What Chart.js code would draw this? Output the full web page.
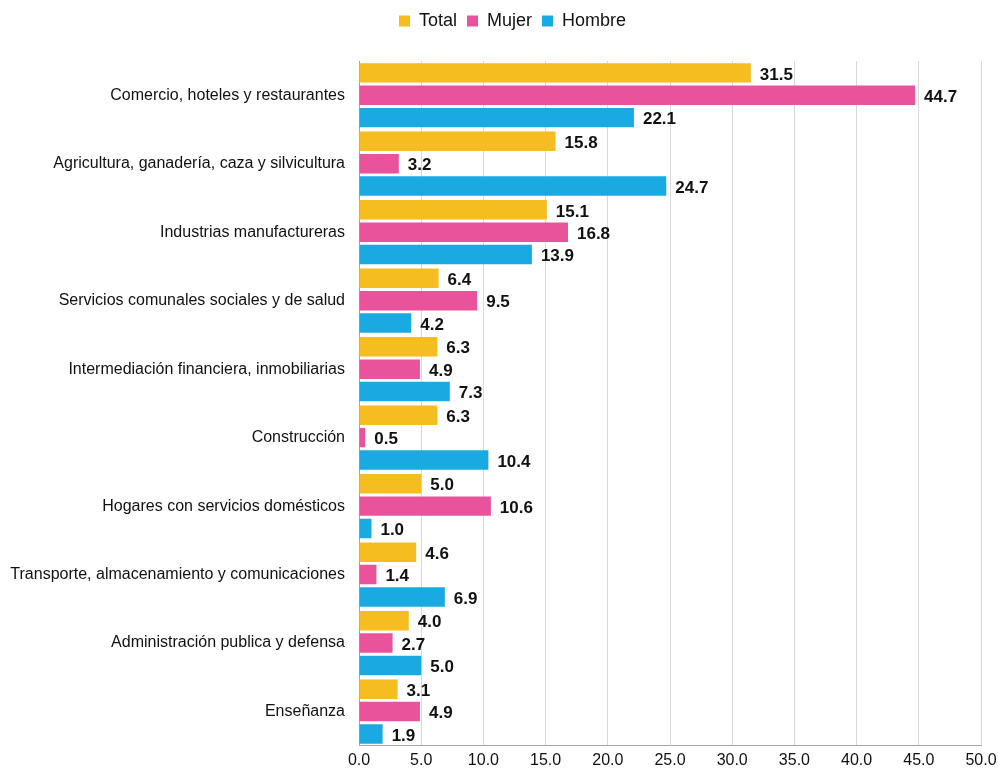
<!DOCTYPE html>
<html>
<head>
<meta charset="utf-8">
<script src="https://cdn.jsdelivr.net/npm/chart.js@4.4.1/dist/chart.umd.min.js"></script>
<style>
  html, body { margin: 0; padding: 0; background: #fff; }
  #wrap { width: 998px; height: 778px; }
</style>
</head>
<body>
<div id="wrap"><canvas id="EmpleoChart"></canvas></div>
<script>
const categories = [
  'Comercio, hoteles y restaurantes',
  'Agricultura, ganadería, caza y silvicultura',
  'Industrias manufactureras',
  'Servicios comunales sociales y de salud',
  'Intermediación financiera, inmobiliarias',
  'Construcción',
  'Hogares con servicios domésticos',
  'Transporte, almacenamiento y comunicaciones',
  'Administración publica y defensa',
  'Enseñanza'
];
const totalValues  = [31.5, 15.8, 15.1, 6.4, 6.3, 6.3, 5.0, 4.6, 4.0, 3.1];
const mujerValues  = [44.7, 3.2, 16.8, 9.5, 4.9, 0.5, 10.6, 1.4, 2.7, 4.9];
const hombreValues = [22.1, 24.7, 13.9, 4.2, 7.3, 10.4, 1.0, 6.9, 5.0, 1.9];

const FONT = '"Liberation Sans", Arial, sans-serif';

// draws the value to the right of every bar
const valueLabels = {
  id: 'valueLabels',
  afterDatasetsDraw(chart) {
    const ctx = chart.ctx;
    ctx.save();
    ctx.font = 'bold 17px ' + FONT;
    ctx.fillStyle = '#111';
    ctx.textAlign = 'left';
    ctx.textBaseline = 'middle';
    chart.data.datasets.forEach((ds, i) => {
      const meta = chart.getDatasetMeta(i);
      meta.data.forEach((bar, j) => {
        ctx.fillText(ds.data[j].toFixed(1), bar.x + 9, bar.y + 2);
      });
    });
    ctx.restore();
  }
};

// extra room under the legend, and legend nudged right
const legendGap = {
  id: 'legendGap',
  beforeInit(chart) {
    const fit = chart.legend.fit;
    chart.legend.fit = function () {
      fit.bind(chart.legend)();
      this.height += 21;
    };
  },
  afterUpdate(chart) {
    const lg = chart.legend;
    lg.left += 16;
    lg.right += 16;
    lg.adjustHitBoxes();
  }
};

const ctx = document.getElementById('EmpleoChart');
new Chart(ctx, {
  type: 'bar',
  data: {
    labels: categories,
    datasets: [
      { label: 'Total', data: totalValues, backgroundColor: '#F5BD1F' },
      { label: 'Mujer', data: mujerValues, backgroundColor: '#E9539B' },
      { label: 'Hombre', data: hombreValues, backgroundColor: '#1AAAE2' }
    ]
  },
  options: {
    indexAxis: 'y',
    responsive: true,
    maintainAspectRatio: false,
    animation: false,
    datasets: {
      bar: { categoryPercentage: 0.98, barPercentage: 0.87 }
    },
    layout: { padding: { left: 10, right: 15, top: 2, bottom: 3 } },
    plugins: {
      legend: {
        position: 'top',
        labels: {
          boxWidth: 11, boxHeight: 11, padding: 10,
          color: '#111',
          font: { family: FONT, size: 18 }
        }
      },
      tooltip: { enabled: false }
    },
    scales: {
      x: {
        min: 0, max: 50,
        ticks: {
          stepSize: 5,
          color: '#111',
          padding: 5,
          font: { family: FONT, size: 16 },
          callback: v => v.toFixed(1)
        },
        grid: { color: '#d9d9d9', drawTicks: false },
        border: { color: '#a6a6a6' },
        afterFit(scale) { scale.paddingRight = 17; }
      },
      y: {
        ticks: {
          color: '#111',
          padding: 14,
          font: { family: FONT, size: 16 }
        },
        grid: { display: false, drawTicks: false },
        border: { color: '#a6a6a6' },
        afterFit(scale) { scale.width = 349; }
      }
    }
  },
  plugins: [valueLabels, legendGap]
});
</script>
</body>
</html>
